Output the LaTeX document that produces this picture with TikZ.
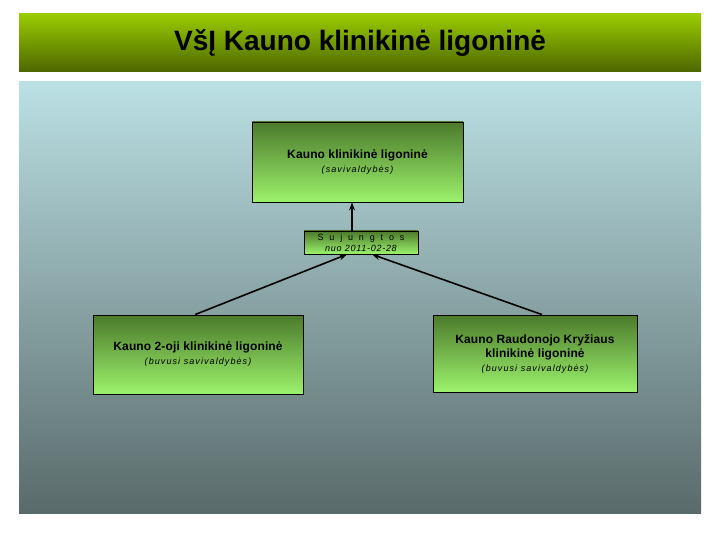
\documentclass[tikz,border=0pt]{standalone}
\usepackage{fontspec}
\setmainfont{Liberation Sans}
\newfontfamily\mainspaced[LetterSpace=1]{Liberation Sans}
\newfontfamily\spacedfont[LetterSpace=12]{Liberation Sans}
\newfontfamily\datefont[LetterSpace=8]{Liberation Sans}
\newfontfamily\widefont[LetterSpace=65]{Liberation Sans}
\usetikzlibrary{arrows.meta,positioning}
\definecolor{bartop}{HTML}{99CC00}
\definecolor{barbot}{HTML}{4D6600}
\definecolor{bgtop}{HTML}{BBE0E4}
\definecolor{bgbot}{HTML}{596A6A}
\definecolor{boxtop}{HTML}{4C7A2C}
\definecolor{boxbot}{HTML}{9CF26C}
\tikzset{
  orgbox/.style={draw=black, line width=0.8pt, top color=boxtop, bottom color=boxbot, inner sep=0pt, align=center, font=\fontsize{12}{14}\selectfont\mainspaced\bfseries},
  link/.style={line width=1.6pt, -{Stealth[length=8pt,width=6pt]}},
}
\newcommand{\notetext}[1]{{\mdseries\spacedfont\itshape\fontsize{9}{14}\selectfont #1}}
\begin{document}
\begin{tikzpicture}[x=1pt,y=-1pt]
\useasboundingbox[fill=white] (0,0) rectangle (720,540);
\node[top color=bartop, bottom color=barbot, minimum width=682pt, minimum height=58pt, inner sep=0pt, font=\fontsize{28}{32}\selectfont\bfseries] (title) at (360,43) {\raisebox{-2pt}{VšĮ Kauno klinikinė ligoninė}};
\node[top color=bgtop, bottom color=bgbot, minimum width=682pt, minimum height=431pt, inner sep=0pt] (bg) at (360,297.5) {};
\node[orgbox, minimum width=211pt, minimum height=80pt] (t) at (357.5,162) {Kauno klinikinė ligoninė\\\notetext{(savivaldybės)}};
\node[orgbox, minimum width=114pt, minimum height=23pt, font=\fontsize{9}{11}\selectfont] (s) at (361,242.5) {\widefont Sujungtos\\\datefont\itshape nuo 2011-02-28};
\node[orgbox, minimum width=210pt, minimum height=79pt] (l) at (198,354.5) {Kauno 2-oji klinikinė ligoninė\\\notetext{(buvusi savivaldybės)}};
\node[orgbox, minimum width=204pt, minimum height=77pt] (r) at (535,353.5) {Kauno Raudonojo Kryžiaus\\klinikinė ligoninė\\\notetext{(buvusi savivaldybės)}};
\draw[link] ([xshift=-9pt]s.north) -- ([xshift=-9pt]s.north |- t.south);
\draw[link] ([xshift=-3pt]l.north) -- ([xshift=-14pt]s.south);
\draw[link] ([xshift=7pt]r.north) -- ([xshift=11pt]s.south);
\end{tikzpicture}
\end{document}
